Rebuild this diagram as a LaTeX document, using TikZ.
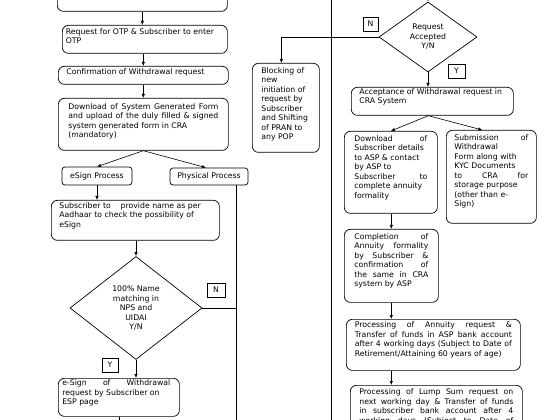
\documentclass[tikz,border=0pt]{standalone}
\usepackage{fontspec}
\setmainfont{DejaVu Sans}
\usetikzlibrary{arrows.meta,shapes.geometric,calc}
\newcommand{\boxtxt}[3]{\parbox[c][#2][t]{#1}{#3}}
\newcommand{\jline}[2][\linewidth]{\makebox[#1][s]{#2}\par}
\newcommand{\rline}[1]{\mbox{#1}\par}
\tikzset{
  base/.style={font=\fontsize{7.75}{9.5}\selectfont, text=black},
  box/.style={base, draw, rounded corners=6pt, line width=0.7pt, anchor=north west},
  pbox/.style={base, draw, rounded corners=3pt, line width=0.7pt, inner sep=0pt},
  lbl/.style={base, draw, line width=0.6pt, minimum width=16pt, minimum height=14pt, inner sep=0pt},
  dec/.style={base, draw, diamond, inner sep=0pt, align=center, line width=0.7pt},
  arr/.style={line width=0.6pt, -{Latex[length=4pt,width=3.4pt]}},
  ln/.style={line width=0.6pt}
}
\begin{document}
\begin{tikzpicture}[x=1pt,y=-1pt]
\useasboundingbox (0,0) rectangle (550,420);
\fill[white] (0,0) rectangle (550,420);
\clip (0,0) rectangle (550,420);

% left column
\node[box, inner xsep=4pt, inner ysep=0pt, minimum width=170pt, minimum height=31pt] (b0) at (57,-20) {};
\node[box, inner xsep=3.5pt, inner ysep=3pt] (b1) at (62,25) {\boxtxt{158pt}{22pt}{\rline{Request for OTP \& Subscriber to enter}\rline{OTP}}};
\node[box, inner xsep=8pt, inner ysep=2pt] (b2) at (58,66) {\boxtxt{154pt}{14pt}{\rline{Confirmation of Withdrawal request}}};
\node[box, inner xsep=10pt, inner ysep=5pt] (b3) at (58,98) {\boxtxt{150pt}{42pt}{\jline{Download of System Generated Form}\jline{and upload of the duly filled \& signed}\rline{system generated form in CRA}\rline{(mandatory)}}};
\node[pbox, minimum width=70pt, minimum height=18pt] (es) at (97,176) {eSign Process};
\node[pbox, minimum width=78pt, minimum height=17pt] (pp) at (209,176.5) {Physical Process};
\node[box, inner xsep=8pt, inner ysep=2pt] (b4) at (51,200) {\boxtxt{152pt}{36pt}{\rline{Subscriber to\ \ \ \ provide name as per}\rline{Aadhaar to check the possibility of}\rline{eSign}}};
\node[dec, minimum width=132pt, minimum height=103pt] (d1) at (136,308) {100\% Name\\matching in\\NPS and\\UIDAI\\Y/N};
\node[lbl, minimum width=18pt] (n1) at (216,290) {N};
\node[lbl] (y1) at (110,365) {Y};
\node[box, inner xsep=4pt, inner ysep=1.5pt] (b5) at (58,378) {\boxtxt{113pt}{35pt}{\jline[108pt]{e-Sign of Withdrawal}\rline{request by Subscriber on}\rline{ESP page}}};

% middle
\node[box, inner xsep=9pt, inner ysep=4pt] (blk) at (252,63) {\boxtxt{49pt}{81pt}{\rline{Blocking of}\rline{new}\rline{initiation of}\rline{request by}\rline{Subscriber}\rline{and Shifting}\rline{of PRAN to}\rline{any POP}}};

% right column
\node[dec, minimum width=98pt, minimum height=70pt] (d2) at (428,37) {Request\\Accepted\\Y/N};
\node[lbl, minimum width=15pt] (n2) at (370.5,24) {N};
\node[lbl, minimum width=17pt] (y2) at (456.5,71) {Y};
\node[box, inner xsep=8pt, inner ysep=1pt] (b6) at (351,87) {\boxtxt{146pt}{26pt}{\rline{Acceptance of Withdrawal request in}\rline{CRA System}}};
\node[box, inner xsep=10pt, inner ysep=4pt] (b7) at (344,131) {\boxtxt{73pt}{74pt}{\jline{Download of}\rline{Subscriber details}\rline{to ASP \& contact}\rline{by ASP to}\jline{Subscriber to}\rline{complete annuity}\rline{formality}}};
\node[box, inner xsep=8pt, inner ysep=4pt] (b8) at (446,130) {\boxtxt{74pt}{85pt}{\jline{Submission of}\rline{Withdrawal}\rline{Form along with}\rline{KYC Documents}\jline{to CRA for}\rline{storage purpose}\rline{(other than e-}\rline{Sign)}}};
\node[box, inner xsep=10pt, inner ysep=4pt] (b9) at (344,229) {\boxtxt{74pt}{65pt}{\jline{Completion of}\jline{Annuity formality}\jline{by Subscriber \&}\jline{confirmation of}\jline{the same in CRA}\rline{system by ASP}}};
\node[box, inner xsep=8.5pt, inner ysep=2.5pt] (b10) at (346,319) {\boxtxt{157pt}{46pt}{\jline{Processing of Annuity request \&}\jline{Transfer of funds in ASP bank account}\jline{after 4 working days (Subject to Date of}\rline{Retirement/Attaining 60 years of age)}}};
\node[box, inner xsep=9pt, inner ysep=3.5pt] (b11) at (350,385) {\boxtxt{154pt}{53pt}{\jline{Processing of Lump Sum request on}\jline{next working day \& Transfer of funds}\jline{in subscriber bank account after 4}\jline{working days (Subject to Date of}}};

% free ends
\coordinate (bot) at (0,430);
\coordinate (ppx) at (236,430);
\coordinate (mt) at (331,-5);
\coordinate (mb) at (331,430);
\coordinate (d2in) at (428,-10);

% connectors left
\draw[arr] (b0.south) -- (b0.south |- b1.north);
\draw[arr] (b1.south -| b2.north) -- (b2.north);
\draw[arr] (b2.south) -- (b3.north);
\draw[arr] (b3.south) -- (es.north);
\draw[arr] (b3.south) -- ([xshift=-3pt]pp.north);
\draw[arr] (es.south) -- (es.south |- b4.north);
\draw[arr] (b4.south -| d1.north) -- (d1.north);
\draw[arr] (d1.south) -- (d1.south |- b5.north);
\draw[ln] (b5.south) -- (b5.south |- bot);
\draw[ln] (pp.south -| ppx) -- (ppx);
\draw[ln] (d1.east) -- (d1.east -| ppx);

% middle
\draw[ln] (mt) -- (mb);
\draw[arr] (d2.west) -| ([xshift=-4.5pt]blk.north);

% right
\draw[arr] (d2in) -- (d2.north);
\draw[arr] (d2.south) -- (d2.south |- b6.north);
\draw[arr] ([xshift=-4pt]b6.south) -- (b7.north);
\draw[arr] ([xshift=-4pt]b6.south) -- ([xshift=-9pt]b8.north);
\draw[arr] (b7.south -| b9.north) -- (b9.north);
\draw[arr] (b9.south) -- (b9.south |- b10.north);
\draw[arr] (b10.south -| b9.south) -- (b11.north -| b9.south);
\end{tikzpicture}
\end{document}
